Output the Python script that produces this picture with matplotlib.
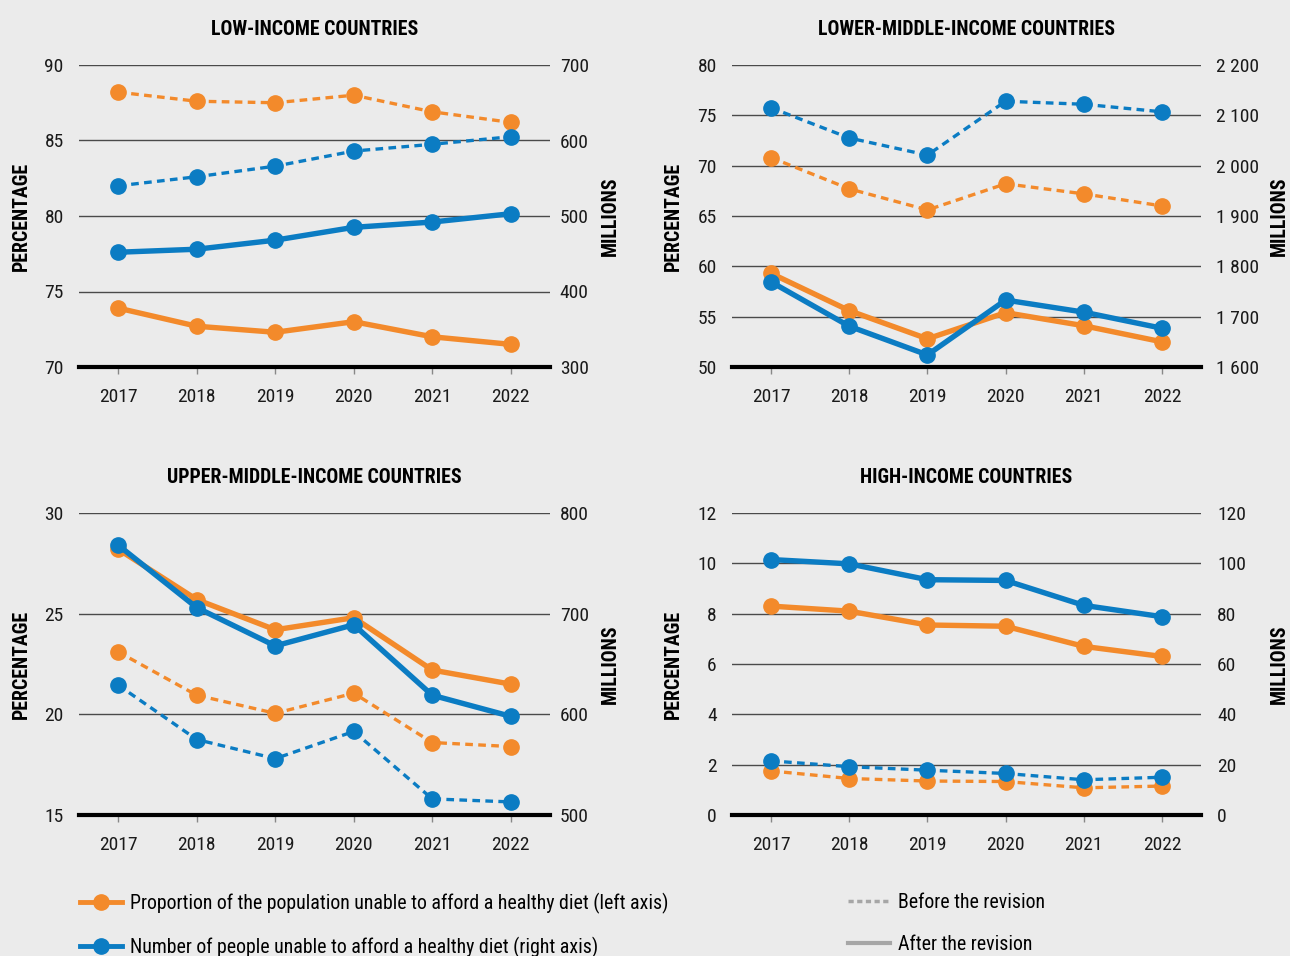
import matplotlib
matplotlib.use("Agg")
import matplotlib.pyplot as plt
from matplotlib import font_manager as fm
from matplotlib.lines import Line2D
from matplotlib.ticker import FuncFormatter

# ---------------- data ----------------
years = [2017, 2018, 2019, 2020, 2021, 2022]

titles = ["LOW-INCOME COUNTRIES", "LOWER-MIDDLE-INCOME COUNTRIES",
          "UPPER-MIDDLE-INCOME COUNTRIES", "HIGH-INCOME COUNTRIES"]

# proportion (%) - after revision (solid) / before revision (dashed)
low_pct_after = [73.9, 72.7, 72.3, 73.0, 72.0, 71.5]
low_pct_before = [88.2, 87.6, 87.5, 88.0, 86.9, 86.2]
low_num_after = [452, 456, 468, 485, 492, 503]
low_num_before = [540, 552, 566, 586, 595, 605]

lmid_pct_after = [59.3, 55.6, 52.8, 55.4, 54.1, 52.5]
lmid_pct_before = [70.8, 67.7, 65.6, 68.2, 67.2, 66.0]
lmid_num_after = [1769, 1681, 1624, 1733, 1709, 1677]
lmid_num_before = [2115, 2055, 2021, 2128, 2122, 2107]

umid_pct_after = [28.2, 25.7, 24.2, 24.8, 22.2, 21.5]
umid_pct_before = [23.1, 20.95, 20.05, 21.05, 18.6, 18.4]
umid_num_after = [768, 706, 668, 689, 619, 598]
umid_num_before = [629, 575, 556, 583, 516, 513]

high_pct_after = [8.3, 8.1, 7.55, 7.5, 6.7, 6.3]
high_pct_before = [1.75, 1.45, 1.35, 1.33, 1.08, 1.15]
high_num_after = [101.5, 99.8, 93.5, 93.2, 83.3, 78.8]
high_num_before = [21.5, 19.2, 17.8, 16.5, 14.0, 15.0]

left_ticks = [[70, 75, 80, 85, 90], [50, 55, 60, 65, 70, 75, 80],
              [15, 20, 25, 30], [0, 2, 4, 6, 8, 10, 12]]
right_ticks = [[300, 400, 500, 600, 700],
               [1600, 1700, 1800, 1900, 2000, 2100, 2200],
               [500, 600, 700, 800], [0, 20, 40, 60, 80, 100, 120]]

legend_labels = ["Proportion of the population unable to afford a healthy diet (left axis)",
                 "Number of people unable to afford a healthy diet (right axis)",
                 "Before the revision", "After the revision"]

panels = [
    (low_pct_after, low_pct_before, low_num_after, low_num_before),
    (lmid_pct_after, lmid_pct_before, lmid_num_after, lmid_num_before),
    (umid_pct_after, umid_pct_before, umid_num_after, umid_num_before),
    (high_pct_after, high_pct_before, high_num_after, high_num_before),
]

# ---------------- style ----------------
ORANGE = "#F38A2B"
BLUE = "#0B7CC3"
GRAY = "#A6A6A6"
BG = "#EBEBEB"
GRID = "#4A4A4A"

names = {f.name for f in fm.fontManager.ttflist}
family = "DejaVu Sans"
stretch = "normal"
for cand in ["Roboto Condensed", "Liberation Sans Narrow", "Open Sans Condensed",
             "Noto Sans Condensed", "Archivo Narrow"]:
    if cand in names:
        family = cand
        break
else:
    stretch = "condensed"

plt.rcParams["font.family"] = [family, "DejaVu Sans"]
plt.rcParams["font.stretch"] = stretch

W, H = 1290, 956
fig = plt.figure(figsize=(W / 100, H / 100), dpi=100, facecolor=BG)

# axes boxes in pixels (left, top, right, bottom)
boxes = [(79, 65, 550, 367), (732, 65, 1201, 367),
         (79, 513, 550, 815), (732, 513, 1201, 815)]
# x-centre (pixels) of the axis titles
millions_x = [610, 1279, 610, 1279]
percent_x = [21, 673, 21, 673]
right_pad = [7, 11, 7, 11.5]


def fmt_thousands(v, pos):
    s = f"{int(round(v)):,}".replace(",", " ")
    return s


TICK_FS = 14
MS = 11

for i, (box, data) in enumerate(zip(boxes, panels)):
    l, t, r, b = box
    ax = fig.add_axes([l / W, 1 - b / H, (r - l) / W, (b - t) / H])
    ax.set_facecolor("none")
    ax2 = ax.twinx()
    pa, pb, na, nb = data
    lt, rt = left_ticks[i], right_ticks[i]
    ax.set_ylim(lt[0], lt[-1])
    ax2.set_ylim(rt[0], rt[-1])
    ax.set_yticks(lt)
    ax2.set_yticks(rt)
    ax2.yaxis.set_major_formatter(FuncFormatter(fmt_thousands))
    ax.set_xlim(2016.5, 2022.5)
    ax.set_xticks(years)
    ax.set_xticklabels([str(y) for y in years])

    # grid lines
    for v in lt[1:]:
        ax.axhline(v, color=GRID, lw=1.0, zorder=0)
    for a in (ax, ax2):
        for s in a.spines.values():
            s.set_visible(False)
    ax.spines["bottom"].set_visible(True)
    ax.spines["bottom"].set_linewidth(3.0)
    ax.spines["bottom"].set_color("black")
    ax.spines["bottom"].set_zorder(5)

    ax.tick_params(axis="y", length=0, labelsize=TICK_FS, pad=11, colors="#1a1a1a")
    ax2.tick_params(axis="y", length=0, labelsize=TICK_FS, pad=right_pad[i],
                    colors="#1a1a1a")
    ax.tick_params(axis="x", length=5, width=1, color="#888888",
                   labelsize=TICK_FS, pad=10, labelcolor="#1a1a1a")

    # lines (dashed = before, solid = after)
    ax.plot(years, pb, color=ORANGE, lw=2.4, ls=(0, (2.3, 1.6)),
            marker="o", ms=MS, zorder=3)
    ax2.plot(years, nb, color=BLUE, lw=2.4, ls=(0, (2.3, 1.6)),
             marker="o", ms=MS, zorder=3)
    ax.plot(years, pa, color=ORANGE, lw=3.9, marker="o", ms=MS, zorder=4)
    ax2.plot(years, na, color=BLUE, lw=3.9, marker="o", ms=MS, zorder=4)

    ax.set_ylabel("PERCENTAGE", fontsize=14.3, fontweight="bold", va="center")
    ax.yaxis.set_label_coords((percent_x[i] - l) / (r - l), 0.5)
    ax2.set_ylabel("MILLIONS", fontsize=14.3, fontweight="bold", va="center")
    ax2.yaxis.set_label_coords((millions_x[i] - l) / (r - l), 0.5)
    ax.set_title(titles[i], fontsize=14.2, fontweight="bold", pad=21.5)

# legends
h1 = [Line2D([], [], color=ORANGE, lw=3.5, marker="o", ms=MS),
      Line2D([], [], color=BLUE, lw=3.5, marker="o", ms=MS)]
h2 = [Line2D([], [], color=GRAY, lw=2.5, ls=(0, (1.5, 1.0))),
      Line2D([], [], color=GRAY, lw=3.0)]
LEG_FS = 14.3
fig.legend(h1, legend_labels[:2], loc="upper left",
           bbox_to_anchor=(72 / W, 1 - 885 / H), frameon=False,
           fontsize=LEG_FS, handlelength=2.1, handletextpad=0.4,
           labelspacing=1.15, borderaxespad=0)
fig.legend(h2, legend_labels[2:], loc="upper left",
           bbox_to_anchor=(840 / W, 1 - 885 / H), frameon=False,
           fontsize=LEG_FS, handlelength=2.1, handletextpad=0.4,
           labelspacing=1.15, borderaxespad=0)

fig.savefig("out.png", dpi=100, facecolor=BG)
